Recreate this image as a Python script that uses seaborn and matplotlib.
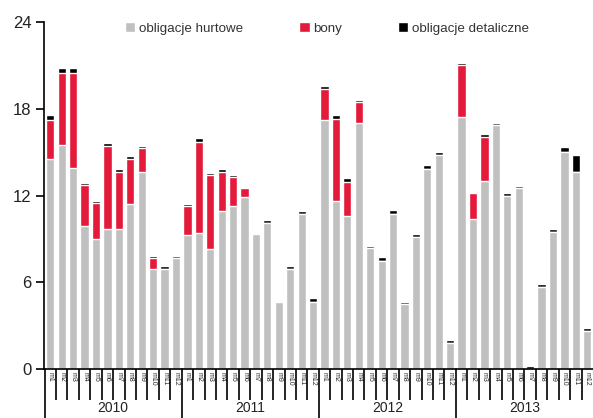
import numpy as np
import pandas as pd
import matplotlib
matplotlib.use("Agg")
import matplotlib.pyplot as plt
import matplotlib.transforms as mtransforms
import seaborn as sns

years = ["2010", "2011", "2012", "2013"]
months = [f"m{i}" for i in range(1, 13)]

hurtowe = [14.5, 15.5, 13.9, 9.9, 9.0, 9.7, 9.7, 11.4, 13.6, 6.9, 6.9, 7.7,
           9.3, 9.4, 8.3, 10.9, 11.25, 11.9, 9.37, 10.1, 4.6, 6.9, 10.7, 4.66,
           17.2, 11.6, 10.6, 17.0, 8.4, 7.5, 10.75, 4.5, 9.16, 13.8, 14.77, 1.82,
           17.4, 10.4, 12.97, 16.9, 12.0, 12.5, 0.0, 5.7, 9.5, 15.04, 13.6, 2.65]
bony = [2.7, 5.0, 6.6, 2.85, 2.5, 5.75, 3.9, 3.1, 1.7, 0.8, 0.0, 0.0,
        1.95, 6.3, 5.1, 2.7, 2.0, 0.6, 0.0, 0.0, 0.0, 0.0, 0.0, 0.0,
        2.2, 5.7, 2.3, 1.45, 0.0, 0.0, 0.0, 0.0, 0.0, 0.0, 0.0, 0.0,
        3.6, 1.8, 3.05, 0.0, 0.0, 0.0, 0.0, 0.0, 0.0, 0.0, 0.0, 0.0]
detaliczne = [0.4, 0.3, 0.3, 0.1, 0.1, 0.15, 0.2, 0.2, 0.15, 0.15, 0.2, 0.1,
              0.15, 0.25, 0.15, 0.2, 0.2, 0.05, 0.07, 0.2, 0.13, 0.2, 0.25, 0.28,
              0.2, 0.3, 0.3, 0.15, 0.14, 0.28, 0.28, 0.14, 0.2, 0.28, 0.21, 0.2,
              0.14, 0.07, 0.2, 0.14, 0.2, 0.14, 0.2, 0.2, 0.2, 0.28, 1.17, 0.21]
series_names = ["obligacje hurtowe", "bony", "obligacje detaliczne"]
colors = ["#c0c0c0", "#e31a3a", "#000000"]
yticks = [0, 6, 12, 18, 24]

sns.set_style("white")
plt.rcParams["font.family"] = ["Liberation Sans", "DejaVu Sans"]

labels = [f"{y}-{m}" for y in years for m in months]
df = pd.DataFrame({
    "okres": labels,
    "h": np.array(hurtowe),
    "hb": np.array(hurtowe) + np.array(bony),
    "tot": np.array(hurtowe) + np.array(bony) + np.array(detaliczne),
})

fig = plt.figure(figsize=(5.93, 4.18), dpi=100)
ax = fig.add_axes([44 / 593, 1 - 369 / 418, 549 / 593, 347 / 418])

w = 0.72
sns.barplot(data=df, x="okres", y="tot", color=colors[2], saturation=1, width=w, ax=ax, label=series_names[2])
sns.barplot(data=df, x="okres", y="hb", color=colors[1], saturation=1, width=w, ax=ax, label=series_names[1])
sns.barplot(data=df, x="okres", y="h", color=colors[0], saturation=1, width=w, ax=ax, label=series_names[0])

n = len(labels)
ax.set_xlim(-0.55, n - 0.5)
ax.set_ylim(0, 24)
ax.set_yticks(yticks)
ax.set_yticklabels([str(v) for v in yticks], fontsize=12, color="#222222")
ax.set_xlabel("")
ax.set_ylabel("")

for s in ["top", "right"]:
    ax.spines[s].set_visible(False)
for s in ["left", "bottom"]:
    ax.spines[s].set_color("black")
    ax.spines[s].set_linewidth(1.2)
ax.tick_params(axis="y", direction="out", length=6, width=1.2, color="black", pad=3, left=True)

# month labels and boundary ticks
ax.set_xticks(range(n))
ax.set_xticklabels(months * len(years), rotation=270, fontsize=5, va="top", ha="center")
ax.tick_params(axis="x", which="major", length=0, pad=2)
ax.set_xticks([i - 0.5 for i in range(n) if i % 12 != 0], minor=True)
ax.tick_params(axis="x", which="minor", length=22, width=1.2, color="black", direction="out", bottom=True)

trans = mtransforms.blended_transform_factory(ax.transData, ax.transAxes)
for k, yr in enumerate(years):
    x0 = k * 12 - 0.5
    ax.plot([x0, x0], [0, -49 / 347], color="black", lw=1.2, transform=trans, clip_on=False)
    ax.text(x0 + 6, -39 / 347, yr, transform=trans, ha="center", va="center", fontsize=10, color="#222222")

handles, lbls = ax.get_legend_handles_labels()
order = [lbls.index(nm) for nm in series_names]
ax.legend([handles[i] for i in order], [lbls[i] for i in order], loc="upper center",
          bbox_to_anchor=(0.515, 1.035), ncol=3, frameon=False, fontsize=9.6,
          handlelength=0.8, handleheight=0.8, handletextpad=0.25, columnspacing=4.2,
          labelcolor="#333333")

fig.savefig("out.png", dpi=100)
